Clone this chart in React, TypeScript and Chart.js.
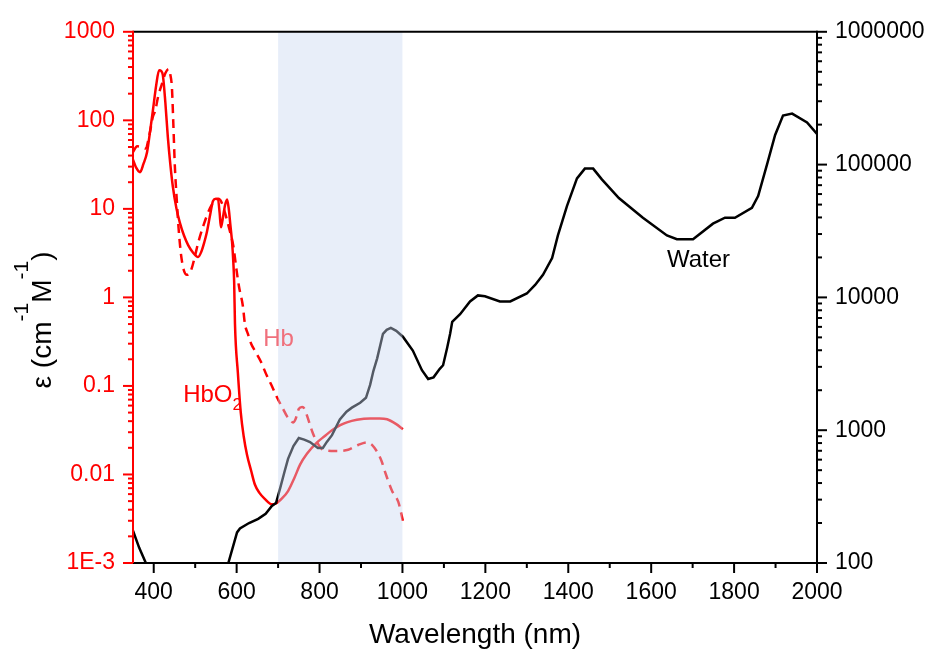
import { useEffect, useRef } from 'react';
import { Chart, registerables } from 'chart.js';

Chart.register(...registerables);

// Oxy-haemoglobin extinction (left axis)
const hbo2Wavelengths = [350, 358, 367, 375, 384, 392, 398, 406, 413, 418, 422, 428, 434, 440, 446, 455, 463, 473, 483, 495, 507, 515, 522, 528, 536, 543, 550, 555, 559, 562, 566, 572, 577, 581, 585, 589, 592, 594, 596, 603, 610, 617, 625, 635, 644, 655, 668, 685, 695, 710, 724, 740, 753, 770, 794, 812, 830, 850, 866, 890, 922, 945, 963, 985, 1001];
const hbo2Values = [36, 29, 26, 32, 44, 80, 129, 250, 369, 360, 324, 160, 65, 32, 18, 10, 7, 5, 3.9, 3.2, 2.86, 3.3, 4.2, 5.4, 8.5, 12.3, 13, 12.8, 9, 6.2, 7.5, 11, 12.8, 10, 6.5, 4.2, 2.5, 1.5, 0.5, 0.14, 0.05, 0.027, 0.0167, 0.011, 0.0077, 0.0062, 0.0053, 0.0046, 0.0047, 0.0054, 0.0065, 0.0093, 0.0129, 0.0172, 0.023, 0.027, 0.0316, 0.036, 0.0388, 0.0415, 0.043, 0.043, 0.042, 0.037, 0.0325];

// Deoxy-haemoglobin extinction (left axis)
const hbWavelengths = [350, 360, 370, 380, 390, 398, 404, 410, 420, 428, 436, 440, 444, 447, 451, 455, 460, 466, 473, 480, 486, 492, 500, 507, 520, 535, 548, 556, 563, 572, 582, 592, 600, 606, 615, 620, 627, 635, 644, 658, 673, 685, 697, 712, 722, 729, 736, 742, 750, 758, 764, 772, 783, 794, 805, 813, 837, 869, 893, 915, 927, 939, 950, 958, 975, 990, 1001];
const hbValues = [44, 51, 50, 48, 70, 110, 130, 180, 260, 340, 380, 330, 230, 100, 30, 14, 6, 3, 2, 1.8, 1.85, 2.15, 3, 4.1, 6.5, 10, 12.5, 13, 12, 9, 6, 3.8, 2, 1.3, 0.8, 0.5, 0.39, 0.3, 0.25, 0.19, 0.13, 0.1, 0.075, 0.055, 0.045, 0.0414, 0.0386, 0.042, 0.055, 0.058, 0.055, 0.043, 0.03, 0.023, 0.0195, 0.0188, 0.0184, 0.019, 0.0215, 0.023, 0.0215, 0.018, 0.014, 0.0107, 0.0065, 0.0049, 0.003];

// Water absorption (right axis)
const waterWavelengths = [350, 365, 381, 400, 450, 500, 550, 580, 601, 608, 630, 652, 670, 685, 695, 705, 715, 724, 737, 750, 763, 777, 796, 808, 818, 830, 849, 865, 878, 898, 912, 922, 930, 939, 953, 962, 972, 985, 1001, 1025, 1047, 1062, 1075, 1090, 1098, 1108, 1115, 1120, 1139, 1163, 1182, 1199, 1235, 1260, 1300, 1320, 1339, 1361, 1375, 1397, 1421, 1440, 1460, 1481, 1522, 1580, 1638, 1662, 1701, 1749, 1778, 1802, 1843, 1858, 1880, 1899, 1918, 1940, 1976, 2000];
const waterValues = [175, 130, 100, 70, 40, 35, 50, 100, 170, 182, 200, 215, 235, 269, 283, 366, 480, 609, 760, 873, 850, 815, 736, 736, 820, 918, 1205, 1380, 1479, 1610, 1754, 2194, 2800, 3475, 5320, 5700, 5890, 5600, 5060, 3981, 2830, 2427, 2500, 2900, 3084, 4200, 5320, 6530, 7480, 9330, 10350, 10200, 9330, 9330, 10700, 12400, 14800, 19800, 29300, 48900, 78700, 93300, 93300, 77400, 56000, 39800, 29300, 27400, 27400, 35900, 39800, 39800, 47200, 58000, 101600, 167000, 234000, 242000, 208000, 170000];

// Axis ticks
const xTickValues = [400, 600, 800, 1000, 1200, 1400, 1600, 1800, 2000];
const xTickLabels = ['400', '600', '800', '1000', '1200', '1400', '1600', '1800', '2000'];
const xMinorTickValues = [500, 700, 900, 1100, 1300, 1500, 1700, 1900];
const leftTickValues = [0.001, 0.01, 0.1, 1, 10, 100, 1000];
const leftTickLabels = ['1E-3', '0.01', '0.1', '1', '10', '100', '1000'];
const rightTickValues = [100, 1000, 10000, 100000, 1000000];
const rightTickLabels = ['100', '1000', '10000', '100000', '1000000'];

// Optical window highlighted on the wavelength axis (nm)
const windowBand = [700, 1000];

const FONT = "'Liberation Sans', Arial, Helvetica, sans-serif";
const RED = '#FF0000';
const HB_LABEL = '#F0707C';
const SHADE = 'rgba(200, 214, 240, 0.42)';

const toPoints = (xs: number[], ys: number[]) => xs.map((x, i) => ({ x, y: ys[i] }));

function logMinorValues(min: number, max: number) {
  const out: number[] = [];
  for (let d = min; d < max; d *= 10) {
    for (let k = 2; k <= 9; k++) out.push(k * d);
  }
  return out;
}

const framePlugin = {
  id: 'frame',
  afterDatasetsDraw(chart: any) {
    const { ctx, chartArea: a, scales } = chart;
    const x0 = scales.x.getPixelForValue(windowBand[0]);
    const x1 = scales.x.getPixelForValue(windowBand[1]);
    ctx.save();
    ctx.fillStyle = SHADE;
    ctx.fillRect(x0, a.top, x1 - x0, a.bottom - a.top);
    ctx.restore();
  },
  afterDraw(chart: any) {
    const { ctx, chartArea: a, scales } = chart;
    const { x, y, y2 } = scales;
    ctx.save();
    ctx.lineWidth = 2;
    ctx.lineCap = 'butt';

    const seg = (color: string, x1: number, y1: number, x2: number, y2p: number) => {
      ctx.strokeStyle = color;
      ctx.beginPath();
      ctx.moveTo(x1, y1);
      ctx.lineTo(x2, y2p);
      ctx.stroke();
    };

    // frame lines
    seg('#000', a.left, a.top, a.right, a.top);
    seg('#000', a.left - 1, a.bottom, a.right + 1, a.bottom);
    seg('#000', a.right, a.top - 1, a.right, a.bottom);
    seg(RED, a.left, a.top - 1, a.left, a.bottom);

    // bottom ticks
    xTickValues.forEach((v) => {
      const px = x.getPixelForValue(v);
      seg('#000', px, a.bottom, px, a.bottom + 10);
    });
    xMinorTickValues.forEach((v) => {
      const px = x.getPixelForValue(v);
      seg('#000', px, a.bottom, px, a.bottom + 5);
    });

    // left ticks
    leftTickValues.forEach((v) => {
      const py = y.getPixelForValue(v);
      seg(RED, a.left - 10, py, a.left, py);
    });
    logMinorValues(0.001, 1000).forEach((v) => {
      const py = y.getPixelForValue(v);
      seg(RED, a.left - 5, py, a.left, py);
    });

    // right ticks
    rightTickValues.forEach((v) => {
      const py = y2.getPixelForValue(v);
      seg('#000', a.right, py, a.right + 10, py);
    });
    logMinorValues(100, 1000000).forEach((v) => {
      const py = y2.getPixelForValue(v);
      seg('#000', a.right, py, a.right + 5, py);
    });

    // curve labels
    ctx.textBaseline = 'alphabetic';
    ctx.textAlign = 'left';
    ctx.font = `24px ${FONT}`;
    ctx.fillStyle = '#000';
    ctx.fillText('Water', x.getPixelForValue(1638), y2.getPixelForValue(17000));

    ctx.fillStyle = HB_LABEL;
    ctx.fillText('Hb', x.getPixelForValue(664), y.getPixelForValue(0.286));

    ctx.fillStyle = RED;
    const hx = x.getPixelForValue(471);
    const hy = y.getPixelForValue(0.0664);
    ctx.fillText('HbO', hx, hy);
    const w = ctx.measureText('HbO').width;
    ctx.font = `17px ${FONT}`;
    ctx.fillText('2', hx + w, hy + 8);

    // x-axis title
    ctx.fillStyle = '#000';
    ctx.font = `28px ${FONT}`;
    ctx.textAlign = 'center';
    ctx.fillText('Wavelength (nm)', (a.left + a.right) / 2, 643);

    // y-axis title with superscripts, rotated
    const pieces = [
      { t: 'ε (cm', sup: false },
      { t: '-1', sup: true },
      { t: 'M', sup: false },
      { t: '-1', sup: true },
      { t: ')', sup: false },
    ];
    const mainFont = `28px ${FONT}`;
    const supFont = `21px ${FONT}`;
    let total = 0;
    const widths = pieces.map((p) => {
      ctx.font = p.sup ? supFont : mainFont;
      const wd = ctx.measureText(p.t).width;
      total += wd;
      return wd;
    });
    ctx.translate(51, 320);
    ctx.rotate(-Math.PI / 2);
    ctx.textAlign = 'left';
    let cx = -total / 2;
    pieces.forEach((p, i) => {
      ctx.font = p.sup ? supFont : mainFont;
      ctx.fillText(p.t, cx, p.sup ? -23 : 0);
      cx += widths[i];
    });
    ctx.restore();
  },
};

export default function App() {
  const canvasRef = useRef<HTMLCanvasElement | null>(null);

  useEffect(() => {
    if (!canvasRef.current) return;
    const tickFont = { family: FONT, size: 23 };
    const chart = new Chart(canvasRef.current, {
      type: 'line',
      data: {
        datasets: [
          {
            label: 'Water',
            data: toPoints(waterWavelengths, waterValues),
            yAxisID: 'y2',
            borderColor: '#000',
            borderWidth: 2.5,
            pointRadius: 0,
            tension: 0,
          },
          {
            label: 'Hb',
            data: toPoints(hbWavelengths, hbValues),
            yAxisID: 'y',
            borderColor: RED,
            borderWidth: 2.5,
            borderDash: [9, 6],
            pointRadius: 0,
            cubicInterpolationMode: 'monotone',
          },
          {
            label: 'HbO2',
            data: toPoints(hbo2Wavelengths, hbo2Values),
            yAxisID: 'y',
            borderColor: RED,
            borderWidth: 2.5,
            pointRadius: 0,
            cubicInterpolationMode: 'monotone',
          },
        ],
      },
      options: {
        animation: false,
        responsive: true,
        maintainAspectRatio: false,
        events: [],
        layout: { padding: { top: 23, left: 0, right: 0, bottom: 0 } },
        plugins: { legend: { display: false }, tooltip: { enabled: false } },
        scales: {
          x: {
            type: 'linear',
            position: 'bottom',
            min: 350,
            max: 2000,
            grid: { display: false, drawTicks: false },
            border: { display: false },
            ticks: {
              font: tickFont,
              color: '#000',
              padding: 16,
              maxRotation: 0,
              autoSkip: false,
              callback: (_v: any, i: number) => xTickLabels[i],
            },
            afterBuildTicks: (s: any) => {
              s.ticks = xTickValues.map((v) => ({ value: v }));
            },
            afterFit: (s: any) => {
              s.height = 97;
            },
          },
          y: {
            type: 'logarithmic',
            position: 'left',
            min: 0.001,
            max: 1000,
            grid: { display: false, drawTicks: false },
            border: { display: false },
            ticks: {
              font: tickFont,
              color: RED,
              padding: 18,
              autoSkip: false,
              callback: (_v: any, i: number) => leftTickLabels[i],
            },
            afterBuildTicks: (s: any) => {
              s.ticks = leftTickValues.map((v) => ({ value: v }));
            },
            afterFit: (s: any) => {
              s.width = 133;
            },
          },
          y2: {
            type: 'logarithmic',
            position: 'right',
            min: 100,
            max: 1000000,
            grid: { display: false, drawTicks: false },
            border: { display: false },
            ticks: {
              font: tickFont,
              color: '#000',
              padding: 18,
              autoSkip: false,
              callback: (_v: any, i: number) => rightTickLabels[i],
            },
            afterBuildTicks: (s: any) => {
              s.ticks = rightTickValues.map((v) => ({ value: v }));
            },
            afterFit: (s: any) => {
              s.width = 116;
            },
          },
        },
      } as any,
      plugins: [framePlugin],
    });
    return () => chart.destroy();
  }, []);

  return (
    <div style={{ position: 'fixed', left: 0, top: 0, width: 933, height: 660, background: '#fff' }}>
      <canvas ref={canvasRef} />
    </div>
  );
}
